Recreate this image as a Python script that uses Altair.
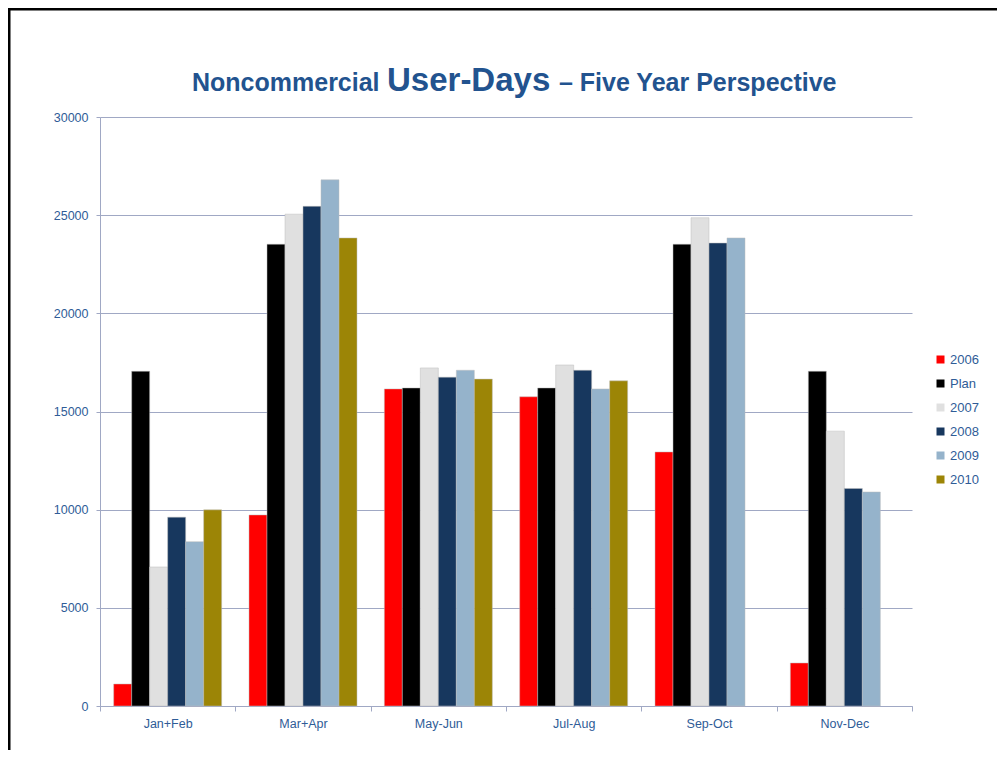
import altair as alt
import pandas as pd

periods = ["Jan+Feb", "Mar+Apr", "May-Jun", "Jul-Aug", "Sep-Oct", "Nov-Dec"]
series = ["2006", "Plan", "2007", "2008", "2009", "2010"]
colors = ["#FF0000", "#000000", "#E0E0E0", "#17375E", "#95B3CB", "#9C8506"]

v2006 = [1120, 9730, 16150, 15750, 12940, 2190]
vPlan = [17050, 23520, 16200, 16200, 23520, 17050]
v2007 = [7080, 25050, 17220, 17370, 24870, 14000]
v2008 = [9620, 25450, 16750, 17100, 23580, 11080]
v2009 = [8370, 26800, 17100, 16150, 23840, 10900]
v2010 = [9990, 23840, 16650, 16560, None, None]

y_ticks = [0, 5000, 10000, 15000, 20000, 25000, 30000]

title_parts = ["Noncommercial", "User-Days", "\u2013 Five Year Perspective"]

rows = []
for s, vals in zip(series, [v2006, vPlan, v2007, v2008, v2009, v2010]):
    for p, v in zip(periods, vals):
        if v is not None:
            rows.append({"period": p, "series": s, "value": v})
df = pd.DataFrame(rows)

label_blue = "#2F5C97"
title_blue = "#22538F"
grid_col = "#A0A8C4"

bars = alt.Chart(df).mark_bar(
    stroke="#BDBDBD", strokeWidth=0.7, strokeOpacity=0.7
).encode(
    x=alt.X("period:N", sort=periods, title=None,
            scale=alt.Scale(paddingInner=0, paddingOuter=0),
            axis=alt.Axis(labelAngle=0, labelColor=label_blue, labelFontSize=12.5,
                          labelFont="Liberation Sans", labelPadding=6,
                          domainColor=grid_col, tickColor=grid_col, tickSize=5,
                          tickBand="extent", grid=False)),
    xOffset=alt.XOffset("series:N", sort=series,
                        scale=alt.Scale(domain=series, paddingInner=0, paddingOuter=0.76)),
    y=alt.Y("value:Q", title=None,
            scale=alt.Scale(domain=[0, 30000], nice=False),
            axis=alt.Axis(values=y_ticks, format="d", labelColor=label_blue, labelFontSize=12.5,
                          labelFont="Liberation Sans", labelPadding=8,
                          domainColor=grid_col, tickColor=grid_col, tickSize=4,
                          gridColor=grid_col, gridWidth=1)),
    color=alt.Color("series:N", sort=series,
                    scale=alt.Scale(domain=series, range=colors),
                    legend=alt.Legend(title=None, orient="none", legendX=834, legendY=236,
                                      symbolType="square", symbolSize=64,
                                      symbolStrokeWidth=0, labelFontSize=13,
                                      labelFont="Liberation Sans", labelColor=label_blue,
                                      labelOffset=3, rowPadding=10, padding=0)),
)

t1 = alt.Chart(pd.DataFrame({"t": [title_parts[0]]})).mark_text(
    align="left", baseline="alphabetic", font="Liberation Sans", fontWeight="bold",
    fontSize=25, color=title_blue
).encode(text="t:N", x=alt.value(92), y=alt.value(-26))

t2 = alt.Chart(pd.DataFrame({"t": [title_parts[1]]})).mark_text(
    align="left", baseline="alphabetic", font="Liberation Sans", fontWeight="bold",
    fontSize=33, color=title_blue
).encode(text="t:N", x=alt.value(287), y=alt.value(-26))

t3 = alt.Chart(pd.DataFrame({"t": [title_parts[2]]})).mark_text(
    align="left", baseline="alphabetic", font="Liberation Sans", fontWeight="bold",
    fontSize=25, color=title_blue
).encode(text="t:N", x=alt.value(459), y=alt.value(-26))

frame = alt.Chart(pd.DataFrame({"f": [1]})).mark_rect(
    fill="transparent", stroke="black", strokeWidth=3
).encode(x=alt.value(-91), x2=alt.value(1000), y=alt.value(-108), y2=alt.value(800))

chart = alt.layer(frame, bars, t1, t2, t3).properties(
    width=812, height=589,
    autosize=alt.AutoSizeParams(type="none"),
    padding={"left": 92, "top": 109, "right": 85, "bottom": 44},
    background="white",
).configure_view(stroke=None)

chart.save("out.html", embed_options={"renderer": "svg", "actions": False})
